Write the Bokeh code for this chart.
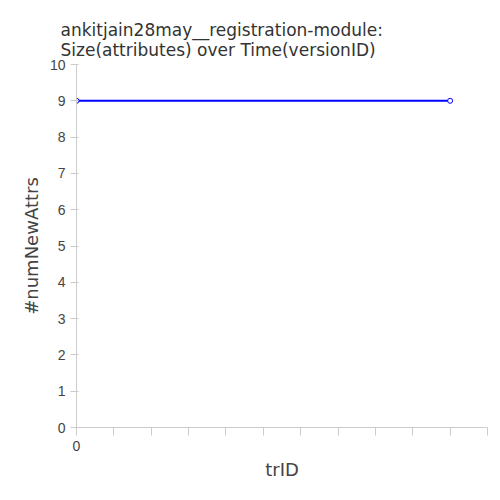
from bokeh.plotting import figure
from bokeh.models import FixedTicker, Range1d
from bokeh.embed import file_html
from bokeh.resources import INLINE

version_ids = [0, 1]
num_new_attrs = [9, 9]

p = figure(width=492, height=492, output_backend="svg", toolbar_location=None,
           x_range=Range1d(0, 1.1), y_range=Range1d(0, 10),
           min_border_left=76, min_border_right=5, min_border_top=64, min_border_bottom=65)
p.title.text = "ankitjain28may__registration-module:\nSize(attributes) over Time(versionID)"
p.title.text_font_size = "17px"
p.title.text_font_style = "normal"
p.title.text_color = "#333333"
p.title.text_font = "DejaVu Sans"
p.title.offset = -16

p.line(version_ids, num_new_attrs, line_color="blue", line_width=2)
p.scatter(version_ids, num_new_attrs, size=5, line_color="blue", fill_color="white")

p.xaxis.ticker = FixedTicker(ticks=[0], minor_ticks=[i / 10 for i in range(12)])
p.yaxis.ticker = FixedTicker(ticks=list(range(11)))
p.xaxis.axis_label = "trID"
p.yaxis.axis_label = "#numNewAttrs"
for ax in (p.xaxis, p.yaxis):
    ax.axis_label_text_font_size = "18px"
    ax.axis_label_text_font_style = "normal"
    ax.axis_label_text_font = "DejaVu Sans"
    ax.major_label_text_font_size = "14px"
    ax.major_label_text_color = "#444444"
    ax.axis_line_color = "#cccccc"
    ax.major_tick_line_color = "#cccccc"
    ax.minor_tick_line_color = "#cccccc"
p.yaxis.minor_tick_line_color = None
p.xaxis.minor_tick_in = 0
p.xaxis.minor_tick_out = 8
p.xgrid.visible = False
p.ygrid.visible = False
p.outline_line_color = None

open("out.html", "w").write(file_html(p, INLINE))
